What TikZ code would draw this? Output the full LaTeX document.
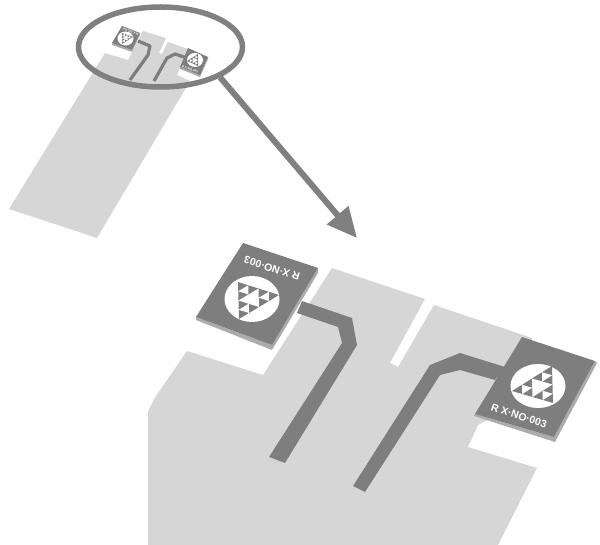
\documentclass[tikz,border=0pt]{standalone}
\usepackage{fontspec}
\setmainfont{Liberation Sans}
\usetikzlibrary{shapes.geometric,arrows.meta,calc}
\definecolor{board}{HTML}{D6D6D6}
\definecolor{metal}{HTML}{7E7E7E}
\definecolor{edgeg}{HTML}{ABABAB}
\definecolor{ink}{HTML}{808080}
\newcommand{\sierpinski}[3]{%
  \coordinate (sa) at (#1); \coordinate (sb) at (#2); \coordinate (sc) at (#3);
  \coordinate (ab) at ($(sa)!.5!(sb)$); \coordinate (bc) at ($(sb)!.5!(sc)$); \coordinate (ca) at ($(sc)!.5!(sa)$);
  \fill[metal] (sa) -- (sb) -- (sc) -- cycle;
  \fill[white] (ab) -- (bc) -- (ca) -- cycle;
  \fill[white] ($(sa)!.5!(ab)$) -- ($(ab)!.5!(ca)$) -- ($(sa)!.5!(ca)$) -- cycle;
  \fill[white] ($(sb)!.5!(ab)$) -- ($(ab)!.5!(bc)$) -- ($(sb)!.5!(bc)$) -- cycle;
  \fill[white] ($(sc)!.5!(bc)$) -- ($(bc)!.5!(ca)$) -- ($(sc)!.5!(ca)$) -- cycle;
}
\tikzset{
  boardfill/.style={fill=board},
  chipfill/.style={fill=metal},
  chipedge/.style={fill=edgeg},
  smalltrace/.style={draw=metal,line width=3.2pt,line join=round},
  chiplabel/.style={text=white,font=\bfseries\fontsize{10.5}{11}\selectfont,inner sep=0pt},
  tinylabel/.style={text=white,font=\bfseries\fontsize{3}{3}\selectfont,inner sep=0pt},
  lensring/.style={ellipse,draw=ink,line width=5.5pt,minimum width=164pt,minimum height=80pt,inner sep=0pt},
  pointer/.style={draw=ink,fill=ink,line width=6pt,-{Triangle[length=30pt,width=27pt]}}
}
\begin{document}
\begin{tikzpicture}[x=1pt,y=-1pt]
\useasboundingbox (0,0) rectangle (600,545);
% small board
\fill[boardfill] (9,209) -- (105,53) -- (128,60) -- (143,31) -- (166,38) -- (159,53) -- (162,54) -- (168,42) -- (191,50) -- (200,60) -- (180,68) -- (177,75) -- (190,81) -- (97,238) -- cycle;
\draw[smalltrace] (138,41) -- (150,46) -- (148,55) -- (130,80);
\draw[smalltrace] (154,81) -- (167,58) -- (175,54) -- (187,58);
% small chips
\fill[chipedge] (112,43) -- (132,50) -- (140,33) -- (140,35) -- (132,52) -- (112,45) -- cycle;
\fill[chipfill] (122,26) -- (140,33) -- (132,50) -- (112,43) -- cycle;
\fill[white] (125.5,38.5) ellipse (8 and 7);
\sierpinski{122,44}{122,33}{133,37}
\node[tinylabel,rotate=162] (tinyA) at (130.5,31.5) {R X·NO·003};
\fill[chipedge] (180,67) -- (200,75) -- (208,57) -- (208,59) -- (200,77) -- (180,69) -- cycle;
\fill[chipfill] (188,48) -- (208,57) -- (200,75) -- (180,67) -- cycle;
\fill[white] (195,60) ellipse (8 and 7);
\sierpinski{198,54}{187,61}{198,66}
\node[tinylabel,rotate=-18] (tinyB) at (190,69.5) {R X·NO·003};
% lens and pointer
\node[lensring] (lens) at (160.5,47) {};
\coordinate (tip) at (357,238);
\draw[pointer] (lens.-27.5) -- (tip);
% large board
\fill[boardfill] (148,545) -- (148,411) -- (156,396) -- (187,351) -- (263,375) -- (332,268) -- (425,299) -- (390,363) -- (398,367) -- (434,305) -- (532,338) -- (525,400) -- (478,425) -- (468,447) -- (537,468) -- (498,545) -- cycle;
% large traces
\fill[metal] (269,457) -- (342,343) -- (338,327) -- (297,313) -- (302,301) -- (352,318) -- (357,345) -- (285,463) -- cycle;
\fill[metal] (353,486) -- (430,365) -- (460,353) -- (505,367) -- (495,380) -- (460,370) -- (440,375) -- (365,492) -- cycle;
% large left chip
\fill[chipedge] (196,317) -- (272,345) -- (318,268) -- (318,273) -- (272,350) -- (196,320) -- cycle;
\fill[chipfill] (243,243) -- (318,268) -- (272,345) -- (196,317) -- cycle;
\fill[white] (252,299) ellipse (27.5 and 23);
\sierpinski{239,319}{238,282}{279,295}
\node[chiplabel,rotate=162] (labelA) at (272,268.5) {R X·NO·003};
% large right chip
\fill[chipedge] (475,414) -- (554,437) -- (595,361) -- (597,363) -- (555,442) -- (474,416) -- cycle;
\fill[chipfill] (522,337) -- (595,361) -- (554,437) -- (475,414) -- cycle;
\fill[white] (538,386) ellipse (27.5 and 22);
\sierpinski{552,366}{512,391}{553,403}
\node[chiplabel,rotate=-18] (labelB) at (519,416) {R X·NO·003};
\end{tikzpicture}
\end{document}
